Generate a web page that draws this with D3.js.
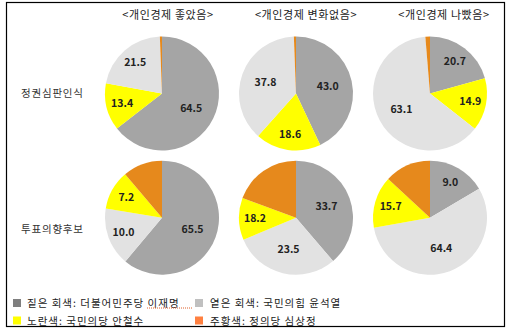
<!DOCTYPE html>
<html><head><meta charset="utf-8">
<script src="https://cdn.jsdelivr.net/npm/d3@7"></script>
<style>
html,body{margin:0;padding:0;background:#fff;}
text{font-family:"Noto Sans CJK KR","Noto Sans",sans-serif;}
</style></head>
<body><svg id="c" width="513" height="334"></svg>
<script>
// ---------- data ----------
const columns = ["<개인경제 좋았음>", "<개인경제 변화없음>", "<개인경제 나빴음>"];
const rowLabels = ["정권심판인식", "투표의향후보"];
const parties = ["짙은 회색: 더불어민주당 이재명", "옅은 회색: 국민의힘 윤석열", "노란색: 국민의당 안철수", "주황색: 정의당 심상정"];

// Row 1 (정권심판인식): displayed values, slices drawn from the same values
const judgeDark   = [64.5, 43.0, 20.7];
const judgeYellow = [13.4, 18.6, 14.9];
const judgeLight  = [21.5, 37.8, 63.1];
const judgeOrange = [0.6, 0.6, 1.3];

// Row 2 (투표의향후보): displayed labels
const voteDarkLabel   = [65.5, 33.7, 9.0];
const voteLightLabel  = [10.0, 23.5, 64.4];
const voteYellowLabel = [7.2, 18.2, 15.7];
// Row 2 slice shares as drawn in the picture (%)
const voteDarkShare   = [61.1, 38.7, 16.5];
const voteLightShare  = [16.5, 29.9, 55.7];
const voteYellowShare = [11.2, 11.9, 14.7];
const voteOrangeShare = [11.2, 19.4, 13.1];

// ---------- build ----------
const pieColor = {dark:"#a5a5a5", light:"#e2e2e2", yellow:"#ffff00", orange:"#e6891c"};
const legendColor = ["#7f7f7f", "#c0c0c0", "#ffff00", "#ff8040"];

const pies = [];
columns.forEach((c, i) => {
  pies.push({row:0, col:i, slices:[
    {key:"dark",   v:judgeDark[i],   label:judgeDark[i]},
    {key:"yellow", v:judgeYellow[i], label:judgeYellow[i]},
    {key:"light",  v:judgeLight[i],  label:judgeLight[i]},
    {key:"orange", v:judgeOrange[i], label:null}
  ]});
  pies.push({row:1, col:i, slices:[
    {key:"dark",   v:voteDarkShare[i],   label:voteDarkLabel[i]},
    {key:"light",  v:voteLightShare[i],  label:voteLightLabel[i]},
    {key:"yellow", v:voteYellowShare[i], label:voteYellowLabel[i]},
    {key:"orange", v:voteOrangeShare[i], label:null}
  ]});
});

const svg = d3.select("#c");
svg.append("rect").attr("x",6.5).attr("y",2.5).attr("width",498).attr("height",324)
  .attr("fill","#fff").attr("stroke","#000").attr("stroke-width",1.2);

const x = d3.scalePoint().domain(columns).range([162, 430]);
const xt = d3.scalePoint().domain(columns).range([168, 444]);
const y = d3.scalePoint().domain(rowLabels).range([93.5, 217.7]);
const R = 57;

const pie = d3.pie().sort(null).value(d => d.v);
const arc = d3.arc().innerRadius(0).outerRadius(R);
const arcIn = d3.arc().innerRadius(R*0.57).outerRadius(R*0.57);
const arcOut = d3.arc().innerRadius(R*0.72).outerRadius(R*0.72);

// titles
svg.selectAll("text.title").data(columns).join("text")
  .attr("class","title")
  .attr("x", d => xt(d)).attr("y", 19)
  .attr("text-anchor","middle")
  .attr("font-size", 11).attr("letter-spacing", 0.6).attr("fill","#222")
  .text(d => d);

// row labels
svg.selectAll("text.row").data(rowLabels).join("text")
  .attr("class","row")
  .attr("x", 21).attr("y", d => y(d) + (d === rowLabels[1] ? 15 : 3.5))
  .attr("font-size", 10.5).attr("letter-spacing", 0.8).attr("fill","#333")
  .text(d => d);

pies.forEach(p => {
  const g = svg.append("g")
    .attr("transform", `translate(${x(columns[p.col])},${y(rowLabels[p.row])})`);
  const arcs = pie(p.slices);
  g.selectAll("path").data(arcs).join("path")
    .attr("d", arc).attr("fill", d => pieColor[d.data.key]);
  g.selectAll("text").data(arcs.filter(d => d.data.label !== null)).join("text")
    .attr("transform", d => {
      const a = (d.endAngle - d.startAngle) / (2*Math.PI) < 0.25 ? arcOut : arcIn;
      const [cx, cy] = a.centroid(d);
      return `translate(${cx},${cy})`;
    })
    .attr("text-anchor","middle").attr("dy","0.36em")
    .attr("font-family","'Open Sans',sans-serif")
    .attr("font-weight","bold").attr("font-size", 10.5).attr("fill","#222")
    .text(d => d.data.label.toFixed(1));
});

// legend
const legX = [13, 195], legTX = [27, 210], legY = [303, 320.5];
parties.forEach((t, i) => {
  const cx = i % 2, ry = Math.floor(i / 2);
  svg.append("rect").attr("x", legX[cx]).attr("y", legY[ry]-4).attr("width",8).attr("height",8)
    .attr("fill", legendColor[i]);
  svg.append("text").attr("x", legTX[cx]).attr("y", legY[ry]+4)
    .attr("font-size", 10.5).attr("letter-spacing", 1).attr("fill","#222").text(t);
});
// spell-check underline seen in the picture
svg.append("line").attr("x1",147).attr("x2",193).attr("y1",308).attr("y2",308)
  .attr("stroke","#e0602a").attr("stroke-width",1).attr("stroke-dasharray","1,1");
</script></body></html>
